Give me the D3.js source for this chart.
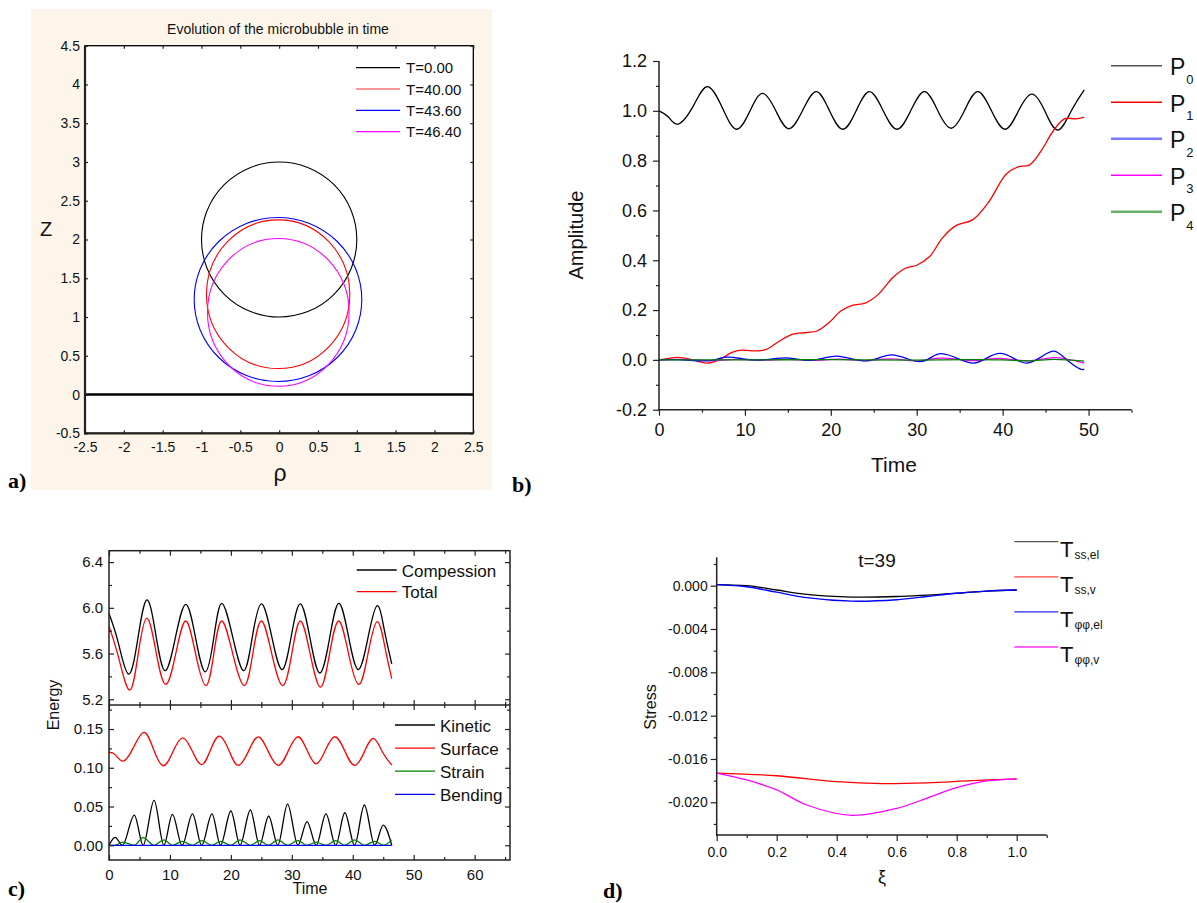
<!DOCTYPE html>
<html><head><meta charset="utf-8">
<script src="https://cdn.jsdelivr.net/npm/d3@7"></script>
<style>
body{margin:0;background:#fff;}
svg{display:block;font-family:Arial,"Liberation Sans",sans-serif;}
</style></head><body>
<svg id="fig" width="1197" height="903"></svg>
<script>
// ================= DATA =================
// Panel a: bubble outlines (centre and semi-axes in rho/z units)
const bubbleLabels = ["T=0.00","T=40.00","T=43.60","T=46.40"];
const bubbleCenterRho = [0, -0.013, -0.015, -0.011];
const bubbleCenterZ = [2.0, 1.294, 1.226, 1.06];
const bubbleRadiusRho = [1.0, 0.923, 1.079, 0.912];
const bubbleRadiusZ = [1.0, 0.959, 1.058, 0.953];
const aRhoTicks = [-2.5,-2,-1.5,-1,-0.5,0,0.5,1,1.5,2,2.5];
const aZTicks = [-0.5,0,0.5,1,1.5,2,2.5,3,3.5,4,4.5];

// Panel b: Legendre mode amplitudes vs time
const P0 = [[0,1.0],[1.1,0.975],[2.25,0.947],[4,1.02],[5.66,1.097],[7.4,1.01],[9.03,0.926],[10.6,1.0],[12.06,1.07],[13.6,1.0],[15.1,0.928],[16.7,1.0],[18.3,1.077],[19.85,1.0],[21.4,0.926],[22.95,1.0],[24.5,1.077],[26.1,1.0],[27.7,0.926],[29.3,1.0],[30.9,1.077],[32.45,1.0],[34.0,0.93],[35.55,1.0],[37.1,1.077],[38.7,1.0],[40.3,0.926],[41.85,1.0],[43.4,1.067],[44.9,1.0],[46.4,0.923],[48,1.0],[49.5,1.084]];
const P1 = [[0,0],[1,0.005],[2.2,0.01],[3.6,0.003],[5.5,-0.013],[6.5,-0.007],[7.5,0.01],[8.5,0.03],[9.6,0.039],[11.4,0.036],[12.5,0.042],[14,0.075],[15.6,0.103],[17.2,0.11],[18.4,0.116],[19.8,0.15],[21.2,0.197],[22.5,0.219],[24,0.228],[25.5,0.262],[27.2,0.33],[28.7,0.368],[30,0.38],[31.5,0.415],[33,0.49],[34.6,0.54],[36.5,0.562],[38.3,0.63],[40.4,0.745],[41.8,0.775],[43.1,0.782],[44.5,0.84],[45.9,0.92],[47.2,0.968],[48.5,0.968],[49.5,0.975]];
const P2 = [[0,0],[2,0.001],[5,-0.004],[6.5,0],[7.9,0.011],[9.8,0.004],[11.5,-0.001],[13.2,0.004],[14.9,0.008],[16.3,0.002],[17.6,-0.002],[19.2,0.007],[20.7,0.015],[22.5,0.004],[24.2,-0.004],[25.7,0.009],[27.1,0.02],[28.8,0.006],[30.4,-0.007],[31.7,0.01],[32.9,0.025],[34.8,0.005],[36.6,-0.013],[38.2,0.008],[39.7,0.026],[41.3,0.006],[42.8,-0.013],[44.5,0.012],[46.0,0.035],[47.5,0],[49.0,-0.036],[49.5,-0.036]];
const P3 = [[0,0],[3,0.002],[6,-0.003],[9,0.002],[12,-0.001],[15,0.002],[18,-0.002],[21,0.003],[24,-0.003],[27,0.004],[30,-0.004],[33,0.007],[36.6,-0.003],[39.5,0.006],[43,-0.004],[46,0.009],[49.5,-0.013]];
const P4 = [[0,0],[10,0],[20,0.001],[30,-0.001],[36,0.001],[40,0],[43,-0.004],[46,0.002],[49.5,-0.005]];
const bModeNames = ["0","1","2","3","4"];
const bXTicks = [0,10,20,30,40,50];
const bXMinor = [5,15,25,35,45,55];
const bYTicks = [-0.2,0,0.2,0.4,0.6,0.8,1.0,1.2];
const bYMinor = [-0.1,0.1,0.3,0.5,0.7,0.9,1.1];

// Panel c: energies vs time
const compression = [[0,5.95],[1.5,5.7],[3.2,5.42],[4.7,5.72],[6.2,6.07],[7.7,5.76],[9.2,5.45],[10.9,5.74],[12.6,6.03],[14.2,5.74],[15.8,5.44],[17.2,5.74],[18.5,6.04],[20.3,5.745],[22.1,5.45],[23.5,5.74],[25.0,6.035],[26.7,5.75],[28.4,5.46],[29.9,5.75],[31.4,6.035],[33.0,5.73],[34.6,5.43],[36.2,5.735],[37.7,6.04],[39.3,5.75],[40.9,5.46],[42.5,5.74],[44.0,6.02],[45.2,5.8],[46.4,5.51]];
const total = [[0,5.84],[1.6,5.56],[3.4,5.28],[4.8,5.6],[6.2,5.91],[7.7,5.62],[9.3,5.33],[11,5.61],[12.6,5.885],[14.2,5.6],[15.9,5.32],[17.2,5.6],[18.5,5.885],[20.3,5.6],[22.2,5.32],[23.6,5.6],[25,5.885],[26.7,5.6],[28.5,5.32],[30,5.6],[31.4,5.885],[33,5.6],[34.7,5.306],[36.2,5.6],[37.7,5.885],[39.3,5.6],[41,5.33],[42.5,5.6],[44,5.88],[45.3,5.65],[46.4,5.38]];
const kinetic = [[0,0],[1.0,0.0103],[2.2,0],[4.16,0.039],[5.6,0],[7.4,0.058],[9.0,0],[10.4,0.040],[12.0,0],[13.7,0.0405],[15.2,0],[16.9,0.0405],[18.3,0],[20.0,0.0442],[21.5,0],[23.2,0.0455],[24.7,0],[26.2,0.0378],[27.7,0],[29.3,0.0532],[31.0,0],[32.5,0.0305],[34.0,0],[35.6,0.0405],[37.2,0],[38.7,0.042],[40.3,0],[41.9,0.052],[43.6,0],[45.0,0.026],[46.4,0]];
const surface = [[0,0.12],[1,0.117],[2.35,0.1086],[4,0.126],[5.75,0.1456],[7.3,0.124],[8.9,0.1026],[10.5,0.121],[12.1,0.1387],[13.7,0.121],[15.2,0.104],[16.6,0.122],[18.1,0.1408],[19.7,0.122],[21.2,0.103],[22.9,0.1215],[24.5,0.14],[26.1,0.1215],[27.8,0.103],[29.4,0.1215],[31.0,0.14],[32.5,0.1225],[34.0,0.105],[35.5,0.1225],[37.1,0.14],[38.7,0.1215],[40.3,0.103],[41.9,0.1205],[43.4,0.138],[44.9,0.12],[46.4,0.1035]];
const strain = [[0,0],[1.0,0],[2.2,0.004],[4.16,0],[5.6,0.0098],[7.4,0],[9.0,0.007],[10.4,0],[12.0,0.005],[13.7,0],[15.2,0.006],[16.9,0],[18.3,0.005],[20.0,0],[21.5,0.007],[23.2,0],[24.7,0.006],[26.2,0],[27.7,0.007],[29.3,0],[31.0,0.006],[32.5,0],[34.0,0.004],[35.6,0],[37.2,0.006],[38.7,0],[40.3,0.007],[41.9,0],[43.6,0.005],[45.0,0],[46.4,0.007]];
const bending = [[0,0],[46.4,0]];
const cXTicks = [0,10,20,30,40,50,60];
const cXMinor = [5,15,25,35,45,55,65];
const cUpperTicks = [5.2,5.6,6.0,6.4];
const cUpperMinor = [5.4,5.8,6.2];
const cLowerTicks = [0,0.05,0.10,0.15];
const cLowerMinor = [0.025,0.075,0.125,0.175];

// Panel d: stresses along xi at t=39
const Tss_el = [[0,0.0001],[0.1,0.0],[0.2,-0.0004],[0.3,-0.0008],[0.45,-0.00105],[0.6,-0.001],[0.8,-0.0007],[0.9,-0.0005],[1.0,-0.0004]];
const Tss_v = [[0,-0.0173],[0.2,-0.01755],[0.4,-0.0181],[0.55,-0.01827],[0.7,-0.0182],[0.85,-0.018],[1.0,-0.01783]];
const Tpp_el = [[0,0.0001],[0.1,-0.0001],[0.2,-0.0006],[0.3,-0.0011],[0.45,-0.00143],[0.6,-0.0013],[0.7,-0.001],[0.8,-0.0007],[0.9,-0.0005],[1.0,-0.0004]];
const Tpp_v = [[0,-0.0173],[0.1,-0.01794],[0.2,-0.01886],[0.3,-0.02025],[0.45,-0.0212],[0.6,-0.02056],[0.7,-0.01963],[0.8,-0.01865],[0.9,-0.01803],[1.0,-0.01783]];
const dSubs = ["ss,el","ss,v","φφ,el","φφ,v"];
const dXTicks = [0,0.2,0.4,0.6,0.8,1.0];
const dXMinor = [0.1,0.3,0.5,0.7,0.9,1.1];
const dYTicks = [-0.020,-0.016,-0.012,-0.008,-0.004,0.000];
const dYMinor = [-0.022,-0.018,-0.014,-0.010,-0.006,-0.002,0.002];

// ================= DRAW =================
const svg = d3.select("#fig");
const AX = "#222";
const smooth = d3.curveCatmullRom.alpha(0.5);
const wave = d3.curveNatural;
function styleAxis(g, fs){
  g.selectAll("path.domain").remove();
  g.selectAll("line").attr("stroke", AX).attr("stroke-width", 1.2);
  g.selectAll("text").attr("fill", "#111").style("font-size", fs + "px").style("font-family","Arial, 'Liberation Sans', sans-serif");
  return g;
}
function hline(g,x1,x2,y,w){g.append("line").attr("x1",x1).attr("x2",x2).attr("y1",y).attr("y2",y).attr("stroke",AX).attr("stroke-width",w);}
function vline(g,x,y1,y2,w){g.append("line").attr("x1",x).attr("x2",x).attr("y1",y1).attr("y2",y2).attr("stroke",AX).attr("stroke-width",w);}
function letter(t,x,y){svg.append("text").attr("x",x).attr("y",y).text(t).style("font-family","'Liberation Serif','Times New Roman',serif").style("font-weight","bold").style("font-size","22px").attr("fill","#000");}

// ---------- Panel a ----------
(function(){
  const g = svg.append("g");
  const x = d3.scaleLinear([-2.5,2.5],[85,473.3]);
  const y = d3.scaleLinear([-0.5,4.5],[433.3,45.7]);
  const colors = ["#000000","#ff0000","#0000ff","#ff00ff"];
  g.append("rect").attr("x",31).attr("y",9).attr("width",461).attr("height",481).attr("fill","#fdf5ea");
  g.append("rect").attr("x",x(-2.5)).attr("y",y(4.5)).attr("width",x(2.5)-x(-2.5)).attr("height",y(-0.5)-y(4.5)).attr("fill","#fff");
  g.append("text").attr("x",278).attr("y",34).attr("text-anchor","middle").style("font-size","14px").attr("fill","#111").text("Evolution of the microbubble in time");
  g.append("line").attr("x1",x(-2.5)).attr("x2",x(2.5)).attr("y1",y(0)).attr("y2",y(0)).attr("stroke","#000").attr("stroke-width",2.5);
  bubbleLabels.forEach((lab,i)=>{
    g.append("ellipse").attr("cx",x(bubbleCenterRho[i])).attr("cy",y(bubbleCenterZ[i]))
      .attr("rx",x(bubbleRadiusRho[i])-x(0)).attr("ry",y(0)-y(bubbleRadiusZ[i]))
      .attr("fill","none").attr("stroke",colors[i]).attr("stroke-width",1.1);
  });
  g.append("rect").attr("x",x(-2.5)).attr("y",y(4.5)).attr("width",x(2.5)-x(-2.5)).attr("height",y(-0.5)-y(4.5)).attr("fill","none").attr("stroke","#000").attr("stroke-width",1.3);
  vline(g,x(-2.5),y(4.5),y(-0.5)+1,2.2); hline(g,x(-2.5)-1,x(2.5),y(-0.5),2.2);
  const fmt = d=>String(d);
  styleAxis(g.append("g").attr("transform",`translate(0,${y(-0.5)})`).call(d3.axisBottom(x).tickValues(aRhoTicks).tickSize(-3).tickPadding(9).tickFormat(fmt)),14);
  styleAxis(g.append("g").attr("transform",`translate(0,${y(4.5)})`).call(d3.axisTop(x).tickValues(aRhoTicks).tickSize(-3).tickFormat("")),14);
  styleAxis(g.append("g").attr("transform",`translate(${x(-2.5)},0)`).call(d3.axisLeft(y).tickValues(aZTicks).tickSize(-3).tickPadding(5).tickFormat(fmt)),14);
  styleAxis(g.append("g").attr("transform",`translate(${x(2.5)},0)`).call(d3.axisRight(y).tickValues(aZTicks).tickSize(-3).tickFormat("")),14);
  g.append("text").attr("x",46).attr("y",236).attr("text-anchor","middle").style("font-size","20px").attr("fill","#111").text("Z");
  g.append("text").attr("x",280).attr("y",481).attr("text-anchor","middle").style("font-size","23px").attr("fill","#111").text("ρ");
  const lc = ["#000000","#ff3030","#0000ff","#ff00ff"];
  bubbleLabels.forEach((lab,i)=>{
    const ry = 67.7 + i*21.3;
    g.append("line").attr("x1",356).attr("x2",400).attr("y1",ry).attr("y2",ry).attr("stroke",lc[i]).attr("stroke-width",1.2);
    g.append("text").attr("x",406).attr("y",ry+5.5).style("font-size","15px").attr("fill","#111").text(lab);
  });
  letter("a)",8,488);
})();

// ---------- Panel b ----------
(function(){
  const g = svg.append("g");
  const x = d3.scaleLinear([0,55],[659,1131.5]);
  const y = d3.scaleLinear([-0.2,1.2],[409.7,61]);
  const lineW = d3.line().x(d=>x(d[0])).y(d=>y(d[1])).curve(wave);
  const lineS = d3.line().x(d=>x(d[0])).y(d=>y(d[1])).curve(smooth);
  const series = [P0,P1,P2,P3,P4];
  const colors = ["#000000","#ff0000","#0000ff","#ff00ff","#008000"];
  const curveOf = [lineW,lineS,lineW,lineW,lineS];
  [0,1,3,2,4].forEach(i=>{
    g.append("path").attr("d",curveOf[i](series[i])).attr("fill","none").attr("stroke",colors[i]).attr("stroke-width",1.3);
  });
  vline(g,x(0),y(1.2),y(-0.2)+0.75,1.5); hline(g,x(0)-0.75,x(55),y(-0.2),1.5);
  const f1 = d=>d.toFixed(1);
  styleAxis(g.append("g").attr("transform",`translate(${x(0)},0)`).call(d3.axisLeft(y).tickValues(bYTicks).tickSize(6).tickPadding(6).tickFormat(f1)),18);
  styleAxis(g.append("g").attr("transform",`translate(${x(0)},0)`).call(d3.axisLeft(y).tickValues(bYMinor).tickSize(3).tickFormat("")),18);
  styleAxis(g.append("g").attr("transform",`translate(0,${y(-0.2)})`).call(d3.axisBottom(x).tickValues(bXTicks).tickSize(6).tickPadding(8).tickFormat(d=>String(d))),18);
  styleAxis(g.append("g").attr("transform",`translate(0,${y(-0.2)})`).call(d3.axisBottom(x).tickValues(bXMinor).tickSize(3).tickFormat("")),18);
  g.append("text").attr("transform","translate(583,235) rotate(-90)").attr("text-anchor","middle").style("font-size","20px").attr("fill","#111").text("Amplitude");
  g.append("text").attr("x",894).attr("y",472).attr("text-anchor","middle").style("font-size","21px").attr("fill","#111").text("Time");
  const lc = ["#555555","#ff0000","#7a7aff","#ff00ff","#66b266"];
  const lw = [1.5,1.5,2.5,1.5,2.5];
  bModeNames.forEach((n,i)=>{
    const ry = 65.7 + i*36.5;
    g.append("line").attr("x1",1111).attr("x2",1162).attr("y1",ry).attr("y2",ry).attr("stroke",lc[i]).attr("stroke-width",lw[i]);
    const t = g.append("text").attr("x",1170).attr("y",ry+9.5).attr("fill","#111").style("font-size","23px");
    t.append("tspan").text("P");
    t.append("tspan").attr("dy",8.5).attr("dx",1).style("font-size","13px").text(n);
  });
  letter("b)",512,492);
})();

// ---------- Panel c ----------
(function(){
  const g = svg.append("g");
  const x = d3.scaleLinear([0,65.8],[109,510]);
  const yU = d3.scaleLinear([5.15,6.5],[705,550.7]);
  const yL = d3.scaleLinear([-0.019,0.181],[860,705]);
  const lineU = d3.line().x(d=>x(d[0])).y(d=>yU(d[1])).curve(wave);
  const lineL = d3.line().x(d=>x(d[0])).y(d=>yL(d[1])).curve(wave);
  const lineM = d3.line().x(d=>x(d[0])).y(d=>yL(d[1])).curve(d3.curveMonotoneX);
  g.append("path").attr("d",lineU(compression)).attr("fill","none").attr("stroke","#000").attr("stroke-width",1.3);
  g.append("path").attr("d",lineU(total)).attr("fill","none").attr("stroke","#ff0000").attr("stroke-width",1.3);
  g.append("path").attr("d",lineL(surface)).attr("fill","none").attr("stroke","#ff0000").attr("stroke-width",1.3);
  g.append("path").attr("d",lineM(kinetic)).attr("fill","none").attr("stroke","#000").attr("stroke-width",1.3);
  g.append("path").attr("d",lineM(strain)).attr("fill","none").attr("stroke","#008000").attr("stroke-width",1.3);
  g.append("path").attr("d",lineM(bending)).attr("fill","none").attr("stroke","#0000ff").attr("stroke-width",1.3);
  g.append("rect").attr("x",109).attr("y",550.7).attr("width",401).attr("height",309.3).attr("fill","none").attr("stroke",AX).attr("stroke-width",1.5);
  hline(g,109,510,705,1.5);
  const f1 = d=>d.toFixed(1), f2 = d=>d.toFixed(2);
  styleAxis(g.append("g").attr("transform","translate(109,0)").call(d3.axisLeft(yU).tickValues(cUpperTicks).tickSize(-5).tickPadding(6).tickFormat(f1)),15);
  styleAxis(g.append("g").attr("transform","translate(109,0)").call(d3.axisLeft(yU).tickValues(cUpperMinor).tickSize(-3).tickFormat("")),15);
  styleAxis(g.append("g").attr("transform","translate(510,0)").call(d3.axisRight(yU).tickValues(cUpperTicks).tickSize(-5).tickFormat("")),15);
  styleAxis(g.append("g").attr("transform","translate(510,0)").call(d3.axisRight(yU).tickValues(cUpperMinor).tickSize(-3).tickFormat("")),15);
  styleAxis(g.append("g").attr("transform","translate(0,550.7)").call(d3.axisTop(x).tickValues(cXTicks).tickSize(-5).tickFormat("")),15);
  styleAxis(g.append("g").attr("transform","translate(0,550.7)").call(d3.axisTop(x).tickValues(cXMinor).tickSize(-3).tickFormat("")),15);
  styleAxis(g.append("g").attr("transform","translate(0,705)").call(d3.axisBottom(x).tickValues(cXTicks).tickSize(-5).tickFormat("")),15);
  styleAxis(g.append("g").attr("transform","translate(0,705)").call(d3.axisBottom(x).tickValues(cXMinor).tickSize(-3).tickFormat("")),15);
  styleAxis(g.append("g").attr("transform","translate(109,0)").call(d3.axisLeft(yL).tickValues(cLowerTicks).tickSize(-5).tickPadding(6).tickFormat(f2)),15);
  styleAxis(g.append("g").attr("transform","translate(109,0)").call(d3.axisLeft(yL).tickValues(cLowerMinor).tickSize(-3).tickFormat("")),15);
  styleAxis(g.append("g").attr("transform","translate(510,0)").call(d3.axisRight(yL).tickValues(cLowerTicks).tickSize(-5).tickFormat("")),15);
  styleAxis(g.append("g").attr("transform","translate(510,0)").call(d3.axisRight(yL).tickValues(cLowerMinor).tickSize(-3).tickFormat("")),15);
  styleAxis(g.append("g").attr("transform","translate(0,705)").call(d3.axisTop(x).tickValues(cXTicks).tickSize(-5).tickFormat("")),15);
  styleAxis(g.append("g").attr("transform","translate(0,705)").call(d3.axisTop(x).tickValues(cXMinor).tickSize(-3).tickFormat("")),15);
  styleAxis(g.append("g").attr("transform","translate(0,860)").call(d3.axisBottom(x).tickValues(cXTicks).tickSize(-5).tickPadding(9).tickFormat(d=>String(d))),15);
  styleAxis(g.append("g").attr("transform","translate(0,860)").call(d3.axisBottom(x).tickValues(cXMinor).tickSize(-3).tickFormat("")),15);
  g.append("text").attr("transform","translate(59,705) rotate(-90)").attr("text-anchor","middle").style("font-size","16px").attr("fill","#111").text("Energy");
  g.append("text").attr("x",310).attr("y",894).attr("text-anchor","middle").style("font-size","16px").attr("fill","#111").text("Time");
  const up = [["Compession","#000"],["Total","#ff0000"]];
  up.forEach((d,i)=>{const ry=570+i*21.7;
    g.append("line").attr("x1",356.7).attr("x2",396.7).attr("y1",ry).attr("y2",ry).attr("stroke",d[1]).attr("stroke-width",1.3);
    g.append("text").attr("x",401.7).attr("y",ry+6.5).style("font-size","17px").attr("fill","#111").text(d[0]);});
  const lo = [["Kinetic","#000"],["Surface","#ff0000"],["Strain","#008000"],["Bending","#0000ff"]];
  lo.forEach((d,i)=>{const ry=725+i*23.1;
    g.append("line").attr("x1",395).attr("x2",435).attr("y1",ry).attr("y2",ry).attr("stroke",d[1]).attr("stroke-width",1.3);
    g.append("text").attr("x",440).attr("y",ry+6.5).style("font-size","17px").attr("fill","#111").text(d[0]);});
  letter("c)",8,896);
})();

// ---------- Panel d ----------
(function(){
  const g = svg.append("g");
  const x = d3.scaleLinear([0,1.1],[716.7,1046.7]);
  const y = d3.scaleLinear([-0.02302,0.00262],[835,557.3]);
  const line = d3.line().x(d=>x(d[0])).y(d=>y(d[1])).curve(smooth);
  const series = [Tss_el,Tss_v,Tpp_el,Tpp_v];
  const colors = ["#000000","#ff0000","#0000ff","#ff00ff"];
  series.forEach((s,i)=>g.append("path").attr("d",line(s)).attr("fill","none").attr("stroke",colors[i]).attr("stroke-width",1.3));
  vline(g,x(0),y(0.00262),y(-0.02302)+0.75,1.5); hline(g,x(0)-0.75,x(1.1),y(-0.02302),1.5);
  styleAxis(g.append("g").attr("transform",`translate(${x(0)},0)`).call(d3.axisLeft(y).tickValues(dYTicks).tickSize(6).tickPadding(3).tickFormat(d=>d.toFixed(3))),14);
  styleAxis(g.append("g").attr("transform",`translate(${x(0)},0)`).call(d3.axisLeft(y).tickValues(dYMinor).tickSize(3).tickFormat("")),14);
  styleAxis(g.append("g").attr("transform",`translate(0,${y(-0.02302)})`).call(d3.axisBottom(x).tickValues(dXTicks).tickSize(6).tickPadding(6).tickFormat(d=>d.toFixed(1))),14);
  styleAxis(g.append("g").attr("transform",`translate(0,${y(-0.02302)})`).call(d3.axisBottom(x).tickValues(dXMinor).tickSize(3).tickFormat("")),14);
  g.append("text").attr("transform","translate(656,707) rotate(-90)").attr("text-anchor","middle").style("font-size","16px").attr("fill","#111").text("Stress");
  g.append("text").attr("x",882).attr("y",883).attr("text-anchor","middle").style("font-size","18px").attr("fill","#111").text("ξ");
  g.append("text").attr("x",877).attr("y",567).attr("text-anchor","middle").style("font-size","19px").attr("fill","#111").text("t=39");
  const lc = ["#555555","#ff4040","#2a2aff","#ff33ff"];
  dSubs.forEach((s,i)=>{
    const ry = 541.7 + i*35.1;
    g.append("line").attr("x1",1014.3).attr("x2",1058.3).attr("y1",ry).attr("y2",ry).attr("stroke",lc[i]).attr("stroke-width",1.3);
    const t = g.append("text").attr("x",1060).attr("y",ry+15).attr("fill","#111").style("font-size","22px");
    t.append("tspan").text("T");
    t.append("tspan").attr("dy",2).attr("dx",1).style("font-size","12px").text(s);
  });
  letter("d)",603,898);
})();
</script>
</body></html>
